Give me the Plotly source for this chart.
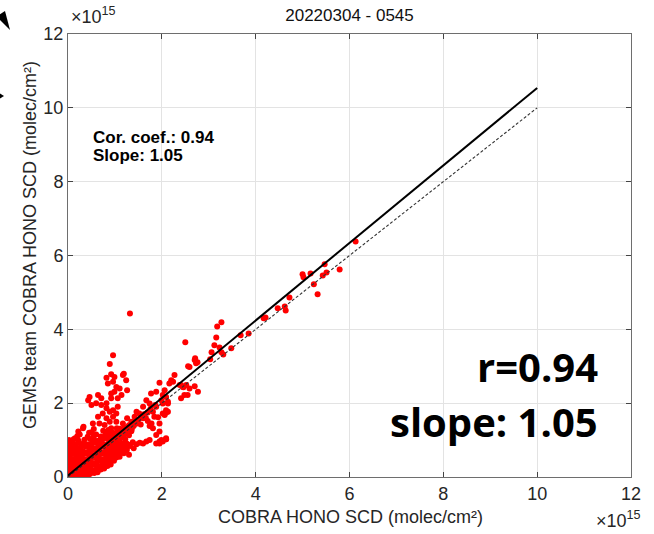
import plotly.graph_objects as go

# ---- data (values in units of 1e15 molec/cm^2) ----
# points along the 1:1 line at high values and isolated outliers
high_pts = [(6.13, 6.38), (5.79, 5.62), (5.51, 5.54), (5.47, 5.76), (5.43, 5.46), (5.24, 5.22),
            (5.32, 4.95), (5.17, 5.51), (5.00, 5.49), (5.02, 5.41), (4.72, 4.86), (4.64, 4.51),
            (4.62, 4.62), (4.47, 4.57), (4.21, 4.32), (4.17, 4.30), (3.85, 3.89), (3.68, 3.84),
            (3.48, 3.49), (3.27, 4.19), (3.18, 4.08), (3.16, 3.78), (3.12, 3.57), (3.23, 3.51),
            (3.31, 3.32), (3.27, 3.38), (3.06, 3.38), (3.03, 3.19), (2.71, 3.22), (2.76, 3.11),
            (2.56, 3.00), (2.50, 3.65), (1.32, 4.43)]

# mid-range points (1.1 .. 2.8)
mid_pts = [(2.73, 3.08), (2.70, 3.17), (2.59, 2.98), (2.77, 2.31), (2.55, 2.22), (2.59, 2.40),
           (2.70, 2.46), (2.48, 2.22), (2.41, 2.49), (2.41, 2.13), (2.45, 2.44), (2.52, 2.49),
           (2.20, 2.62), (2.27, 2.76), (2.24, 2.58), (2.38, 2.49), (2.46, 2.43), (2.16, 2.53),
           (1.95, 2.55), (1.88, 2.31), (1.77, 2.26), (2.06, 2.35), (2.09, 2.17), (1.99, 2.08),
           (1.67, 2.08), (1.74, 1.99), (1.60, 1.90), (1.88, 1.90), (2.02, 1.99), (2.13, 1.99),
           (2.02, 2.22), (2.13, 2.04), (2.09, 1.81), (2.06, 1.68), (1.84, 1.63), (1.95, 1.45),
           (1.81, 1.32), (1.99, 1.00), (2.09, 1.02), (1.95, 0.96), (1.88, 0.91), (1.88, 1.14),
           (1.95, 1.23), (2.09, 1.05), (1.74, 1.38), (1.78, 1.45), (2.02, 1.72), (2.09, 1.74),
           (2.13, 1.77), (1.81, 1.77), (1.46, 1.77), (1.42, 1.63), (1.52, 1.72), (1.60, 1.59),
           (1.26, 1.59), (1.17, 1.45), (1.35, 1.50), (1.30, 1.40), (1.40, 1.50), (1.50, 1.55),
           (1.62, 1.70), (1.70, 1.75), (1.45, 1.44), (1.56, 1.62), (1.66, 1.60), (1.76, 1.85),
           (1.86, 1.95), (1.36, 1.30), (1.25, 1.35), (1.70, 1.52), (1.92, 1.62), (1.55, 1.42)]

# upper branch (GEMS higher than COBRA)
upper_pts = [(0.96, 3.30), (0.89, 3.06), (0.92, 2.78), (0.82, 2.69), (0.99, 2.71), (1.17, 2.76),
             (1.24, 2.62), (0.85, 2.53), (0.96, 2.58), (1.03, 2.44), (1.10, 2.40), (1.19, 2.80),
             (1.26, 2.35), (0.46, 2.17), (0.43, 2.08), (0.64, 2.22), (0.71, 2.13), (0.50, 1.95),
             (0.60, 2.00), (0.71, 1.95), (0.82, 2.00), (0.92, 2.13), (1.06, 2.13), (1.14, 2.22),
             (0.99, 2.31), (0.92, 2.26), (1.06, 1.90), (0.82, 1.86), (0.89, 1.77), (0.96, 1.81),
             (1.03, 1.72), (0.74, 1.72), (0.64, 1.63), (0.82, 1.59), (0.96, 1.63), (0.89, 1.50),
             (0.67, 1.45), (0.78, 1.41), (1.03, 1.50), (0.53, 1.45), (0.32, 1.32), (0.92, 1.32),
             (0.55, 1.30), (0.75, 1.25), (1.10, 1.30), (0.45, 1.20), (0.60, 1.15), (0.85, 1.20),
             (0.25, 1.15), (0.15, 1.05), (0.22, 1.23), (0.33, 1.36), (0.86, 1.27), (1.04, 1.32)]

# lower branch (GEMS lower than COBRA)
lower_pts = [(1.74, 1.00), (1.60, 0.91), (1.46, 0.89), (1.31, 0.87), (1.14, 0.82), (1.25, 0.91),
             (1.38, 0.94), (1.53, 0.93), (1.67, 0.96), (1.25, 0.73), (1.17, 0.82), (1.95, 0.91),
             (2.02, 0.96), (2.09, 1.02), (1.14, 0.69), (1.07, 0.73), (1.30, 0.60), (1.40, 0.78)]

# dense core near the origin
core_pts = [(0.00, 0.01), (0.08, 0.00), (0.16, 0.02), (0.24, 0.01), (0.33, 0.00), (0.41, 0.02),
            (0.02, 0.10), (0.11, 0.12), (0.20, 0.09), (0.29, 0.11), (0.38, 0.10), (0.47, 0.08),
            (0.56, 0.11), (0.63, 0.13),
            (0.00, 0.21), (0.07, 0.19), (0.16, 0.22), (0.25, 0.20), (0.34, 0.18), (0.43, 0.21),
            (0.52, 0.19), (0.61, 0.22), (0.70, 0.20), (0.77, 0.23),
            (0.03, 0.31), (0.12, 0.29), (0.21, 0.32), (0.30, 0.30), (0.39, 0.28), (0.48, 0.31),
            (0.57, 0.33), (0.66, 0.29), (0.75, 0.32), (0.84, 0.30), (0.91, 0.34),
            (0.00, 0.40), (0.08, 0.42), (0.17, 0.39), (0.26, 0.41), (0.35, 0.43), (0.44, 0.40),
            (0.53, 0.38), (0.62, 0.41), (0.71, 0.43), (0.80, 0.39), (0.89, 0.42), (0.98, 0.44),
            (0.04, 0.51), (0.13, 0.49), (0.22, 0.52), (0.31, 0.50), (0.40, 0.48), (0.49, 0.51),
            (0.58, 0.53), (0.67, 0.50), (0.76, 0.48), (0.85, 0.52), (0.94, 0.50), (1.03, 0.53),
            (1.10, 0.55),
            (0.00, 0.60), (0.09, 0.62), (0.18, 0.59), (0.27, 0.61), (0.36, 0.63), (0.45, 0.60),
            (0.54, 0.58), (0.63, 0.61), (0.72, 0.63), (0.81, 0.59), (0.90, 0.62), (0.99, 0.60),
            (1.08, 0.63), (1.19, 0.64),
            (0.05, 0.71), (0.14, 0.69), (0.23, 0.72), (0.32, 0.70), (0.41, 0.68), (0.50, 0.71),
            (0.59, 0.73), (0.68, 0.70), (0.77, 0.68), (0.86, 0.72), (0.95, 0.70), (1.04, 0.73),
            (1.13, 0.71), (1.25, 0.74),
            (0.01, 0.80), (0.10, 0.82), (0.19, 0.79), (0.28, 0.81), (0.37, 0.83), (0.46, 0.80),
            (0.55, 0.78), (0.64, 0.81), (0.73, 0.83), (0.82, 0.79), (0.91, 0.82), (1.00, 0.80),
            (1.09, 0.83), (1.20, 0.81), (1.32, 0.84),
            (0.06, 0.91), (0.15, 0.89), (0.24, 0.92), (0.33, 0.90), (0.42, 0.88), (0.51, 0.91),
            (0.60, 0.93), (0.69, 0.90), (0.78, 0.88), (0.87, 0.92), (0.96, 0.90), (1.05, 0.93),
            (1.15, 0.91),
            (0.02, 1.00), (0.12, 1.02), (0.22, 0.99), (0.35, 1.01), (0.47, 1.03), (0.56, 1.00),
            (0.65, 0.98), (0.74, 1.02), (0.83, 1.04), (0.93, 1.00), (1.02, 1.03), (1.12, 1.05),
            (1.22, 1.02),
            (0.20, 1.11), (0.42, 1.09), (0.55, 1.12), (0.70, 1.10), (0.80, 1.13), (0.90, 1.11),
            (1.00, 1.14), (1.10, 1.12), (1.20, 1.15), (1.30, 1.13),
            (0.50, 1.21), (0.80, 1.22), (0.95, 1.20), (1.05, 1.24), (1.15, 1.22), (1.25, 1.26),
            (1.35, 1.24),
            (1.10, 1.31), (1.20, 1.33), (1.30, 1.36), (1.40, 1.38)]

# reference lines
one2one_x = [0, 10]
one2one_y = [0, 10]
fit_x = [0, 10]
fit_y = [0.04, 10.54]

tick_vals = [0, 2, 4, 6, 8, 10, 12]
tick_text = ["0", "2", "4", "6", "8", "10", "12"]

title_text = "20220304 - 0545"
xlabel = "COBRA HONO SCD (molec/cm²)"
ylabel = "GEMS team COBRA HONO SCD (molec/cm²)"
stats_lines = ["Cor. coef.: 0.94", "Slope: 1.05"]
big_lines = ["r=0.94", "slope: 1.05"]

# ---- figure ----
all_pts = core_pts + lower_pts + upper_pts + mid_pts + high_pts
px = [p[0] for p in all_pts]
py = [p[1] for p in all_pts]

FONT = "Liberation Sans, Arial, Helvetica, sans-serif"
PL, PT, PW, PH = 68, 34, 563, 443   # plot area in page pixels


def pxx(v):
    return (v - PL) / PW


def pyy(v):
    return (PT + PH - v) / PH


fig = go.Figure()
fig.add_trace(go.Scatter(x=px, y=py, mode="markers",
                         marker=dict(color="#FF0000", size=6, line=dict(width=0)),
                         showlegend=False, hoverinfo="skip"))
fig.add_trace(go.Scatter(x=one2one_x, y=one2one_y, mode="lines",
                         line=dict(color="#333333", width=1.1, dash="3px,2px"),
                         showlegend=False, hoverinfo="skip"))
fig.add_trace(go.Scatter(x=fit_x, y=fit_y, mode="lines",
                         line=dict(color="#000000", width=2),
                         showlegend=False, hoverinfo="skip"))

axis_common = dict(range=[0, 12], tickmode="array", tickvals=tick_vals, ticktext=tick_text,
                   showgrid=True, gridcolor="#E3E3E3", gridwidth=1,
                   ticks="inside", ticklen=5, tickwidth=1, tickcolor="#444444",
                   showline=True, linecolor="#6E6E6E", linewidth=1, mirror="ticks",
                   zeroline=False, tickfont=dict(family=FONT, size=18, color="#262626"),
                   fixedrange=True)

fig.update_layout(
    width=654, height=534, autosize=False,
    margin=dict(l=PL, r=654 - PL - PW, t=PT, b=534 - PT - PH, pad=0),
    paper_bgcolor="white", plot_bgcolor="white",
    xaxis=dict(**axis_common),
    yaxis=dict(**axis_common),
    title=dict(text=title_text, x=pxx(349.5), xref="paper", xanchor="center",
               y=1 - 15 / 534, yref="container", yanchor="middle",
               font=dict(family=FONT, size=17, color="#111111")),
    showlegend=False,
)

ann = []
# axis titles
ann.append(dict(text=xlabel, xref="paper", yref="paper", x=pxx(350), y=pyy(517),
                xanchor="center", yanchor="middle", showarrow=False,
                font=dict(family=FONT, size=18, color="#262626")))
ann.append(dict(text=ylabel, xref="paper", yref="paper", x=pxx(30), y=pyy(245),
                xanchor="center", yanchor="middle", showarrow=False, textangle=-90,
                font=dict(family=FONT, size=18, color="#262626")))
# exponent labels
ann.append(dict(text="×10<sup>15</sup>", xref="paper", yref="paper", x=pxx(69),
                y=pyy(29), xanchor="left", yanchor="bottom", showarrow=False,
                font=dict(family=FONT, size=18, color="#262626")))
ann.append(dict(text="×10<sup>15</sup>", xref="paper", yref="paper", x=pxx(643),
                y=pyy(533), xanchor="right", yanchor="bottom", showarrow=False,
                font=dict(family=FONT, size=18, color="#262626")))
# stats box text
ann.append(dict(text="<b>" + stats_lines[0] + "</b>", xref="x", yref="y", x=0.5, y=9.2,
                xanchor="left", yanchor="middle", showarrow=False,
                font=dict(family=FONT, size=17, color="#000000")))
ann.append(dict(text="<b>" + stats_lines[1] + "</b>", xref="x", yref="y", x=0.5, y=8.72,
                xanchor="left", yanchor="middle", showarrow=False,
                font=dict(family=FONT, size=17, color="#000000")))
# big overlay text
ann.append(dict(text="<b>" + big_lines[0] + "</b>", xref="x", yref="y", x=11.33, y=3.0,
                xanchor="right", yanchor="middle", showarrow=False,
                font=dict(family="Open Sans, sans-serif", size=40, color="#000000")))
ann.append(dict(text="<b>" + big_lines[1] + "</b>", xref="x", yref="y", x=11.33, y=1.5,
                xanchor="right", yanchor="middle", showarrow=False,
                font=dict(family="Open Sans, sans-serif", size=40, color="#000000")))
fig.update_layout(annotations=ann)

# cropped arrow fragments at the left edge of the picture
shapes = [
    dict(type="path", xref="paper", yref="paper", fillcolor="#000000", line=dict(width=0),
         path=f"M {pxx(10)} {pyy(30)} L {pxx(-1)} {pyy(19)} L {pxx(-1)} {pyy(15)} L {pxx(5)} {pyy(11)} Z"),
    dict(type="path", xref="paper", yref="paper", fillcolor="#000000", line=dict(width=0),
         path=f"M {pxx(4)} {pyy(96)} L {pxx(-1)} {pyy(93)} L {pxx(-1)} {pyy(99)} Z"),
]
fig.update_layout(shapes=shapes)

fig.write_html("out.html", config={"displayModeBar": False},
               post_script="document.body.style.margin='0';document.body.style.padding='0';")
